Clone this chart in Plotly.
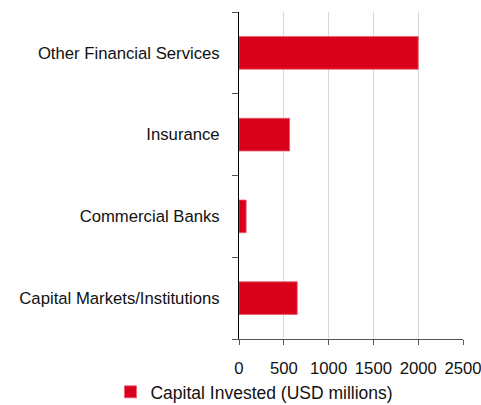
import plotly.graph_objects as go

# Sector breakdown of capital invested
sectors = ["Capital Markets/Institutions", "Commercial Banks", "Insurance", "Other Financial Services"]
capital_invested = [650, 80, 565, 2000]
x_ticks = [0, 500, 1000, 1500, 2000, 2500]

fig = go.Figure()
fig.add_trace(go.Bar(
    y=sectors,
    x=capital_invested,
    orientation="h",
    name="Capital Invested (USD millions)",
    marker=dict(color="#d9001b", line=dict(color="#e8606e", width=0.8)),
    width=0.4,
    showlegend=True,
))

fig.update_layout(
    width=481, height=405,
    margin=dict(l=239, r=18, t=12, b=66, autoexpand=False),
    paper_bgcolor="white",
    plot_bgcolor="white",
    font=dict(family="Liberation Sans, Arial, sans-serif", size=16.7, color="#111111"),
    showlegend=True,
    legend=dict(orientation="h", xref="container", x=0.2297, xanchor="left",
                y=-0.162, yanchor="middle", font=dict(size=17.5), itemwidth=30,
                bgcolor="rgba(0,0,0,0)"),
)
fig.update_xaxes(
    range=[0, 2500], tickvals=x_ticks, showgrid=True, gridcolor="#d9d9d9", gridwidth=1,
    showline=True, linecolor="#555555", linewidth=1,
    ticks="outside", ticklen=5, tickcolor="#555555", zeroline=False,
    ticklabelstandoff=9, ticklabeloverflow="allow",
)
fig.update_yaxes(
    showline=True, linecolor="#000000", linewidth=1,
    ticks="outside", ticklen=6, tickcolor="#555555",
    tickson="boundaries", ticklabelstandoff=15, showgrid=False,
)

fig.write_html("out.html")
